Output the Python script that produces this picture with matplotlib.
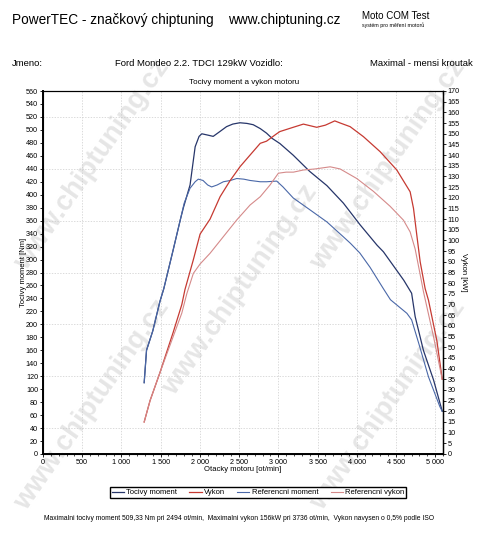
import matplotlib
matplotlib.use("Agg")
import matplotlib.pyplot as plt
from matplotlib.ticker import FuncFormatter, MultipleLocator

plt.rcParams["font.family"] = ["Liberation Sans", "DejaVu Sans"]

rpm_torque = [1290, 1320, 1400, 1490, 1540, 1660, 1750, 1790, 1875, 1940, 1990, 2025,
              2100, 2170, 2250, 2340, 2420, 2510, 2600, 2680, 2770, 2850, 2920, 3020,
              3190, 3400, 3620, 3830, 4040, 4260, 4340, 4470, 4600, 4700, 4745, 4850,
              4980, 5090]
torque = [110, 160, 190, 235, 255, 315, 361, 380, 415, 474, 490, 494,
          492, 490, 497, 505, 509, 511, 510, 508, 502, 495, 487, 479,
          461, 436, 414, 387, 354, 322, 312, 290, 268, 248, 212, 160,
          114, 66]

rpm_power = [1290, 1365, 1490, 1660, 1770, 1810, 1917, 2003, 2130, 2258, 2385, 2513,
             2640, 2770, 2850, 2980, 3020, 3190, 3320, 3490, 3600, 3720, 3790, 3916,
             4086, 4298, 4511, 4681, 4724, 4766, 4809, 4872, 4915, 5022, 5090]
power = [15, 25, 38, 57, 70, 77, 91, 103, 110, 120.5, 128, 134.6,
         140, 145.5, 146.5, 150, 151, 153, 154.5, 153, 154, 156, 155, 153.3,
         148.6, 141.6, 133, 122.8, 115, 102.5, 90, 77.5, 72, 53, 35]

rpm_ref_torque = [1290, 1320, 1400, 1490, 1540, 1660, 1750, 1800, 1875, 1940, 1980, 2040,
                  2100, 2150, 2220, 2300, 2390, 2470, 2560, 2640, 2770, 2850, 2980, 3060,
                  3190, 3400, 3620, 3830, 3920, 4040, 4170, 4340, 4430, 4560, 4640, 4700,
                  4790, 4915, 5060, 5090]
ref_torque = [110, 160, 190, 235, 255, 315, 361, 387, 410, 420, 424, 422,
              415, 412, 415, 420, 422, 425, 424, 422, 420, 420, 421, 412,
              395, 377, 358, 335, 325, 310, 288, 255, 238, 225, 217, 207,
              171, 119, 73, 66]

rpm_ref_power = [1290, 1365, 1490, 1660, 1770, 1833, 1917, 2003, 2130, 2300, 2470, 2640,
                 2770, 2895, 3001, 3100, 3193, 3320, 3469, 3661, 3788, 4001, 4213, 4426,
                 4596, 4681, 4745, 4809, 4851, 4979, 5090]
ref_power = [15, 25, 38, 55, 66, 75, 84.6, 89, 94, 101.8, 109.6, 116.6,
             120.5, 126, 131.5, 132, 132, 133, 133.5, 134.5, 133.5, 129, 123, 116,
             109.5, 104, 96, 84, 76, 55, 35]

C_TORQUE = "#27366a"
C_POWER = "#c63a32"
C_REF_TORQUE = "#4a68a8"
C_REF_POWER = "#d58a8a"

fig = plt.figure(figsize=(4.8, 5.36), dpi=100)
fig.patch.set_facecolor("white")

# watermark, kept behind the axes
for cx, cy in [(92, 165), (92, 405), (240, 290), (388, 165), (388, 405)]:
    fig.text(cx / 480, 1 - cy / 536, "www.chiptuning.cz", rotation=55,
             fontsize=20, fontweight="bold", color="#e6e6e6",
             ha="center", va="center", zorder=-1)

# header
fig.text(12 / 480, 1 - 20 / 536, "PowerTEC - značkový chiptuning", fontsize=9.8,
         va="center", ha="left")
fig.text(228 / 480, 1 - 20 / 536, "www.chiptuning.cz", fontsize=9.8,
         va="center", ha="left")
fig.text(362 / 480, 1 - 16 / 536, "Moto COM Test", fontsize=7, va="center", ha="left")
fig.text(362 / 480, 1 - 25 / 536, "systém pro měření motorů", fontsize=3.8,
         va="center", ha="left")
fig.text(12 / 480, 1 - 63 / 536, "Jmeno:", fontsize=6.8, va="center", ha="left")
fig.text(115 / 480, 1 - 63 / 536, "Ford Mondeo 2.2. TDCI 129kW Vozidlo:", fontsize=6.8,
         va="center", ha="left")
fig.text(370 / 480, 1 - 63 / 536, "Maximal - mensi kroutak", fontsize=6.8,
         va="center", ha="left")
fig.text(244 / 480, 1 - 83 / 536, "Tocivy moment a vykon motoru", fontsize=5.8,
         va="center", ha="center")

ax = fig.add_axes([43 / 480, 82 / 536, 400 / 480, 363 / 536])
ax.set_facecolor("none")
ax2 = ax.twinx()

l1, = ax.plot(rpm_torque, torque, color=C_TORQUE, lw=0.9, label="Tocivy moment")
l3, = ax.plot(rpm_ref_torque, ref_torque, color=C_REF_TORQUE, lw=0.8,
              label="Referencni moment")
l2, = ax2.plot(rpm_power, power, color=C_POWER, lw=0.9, label="Vykon")
l4, = ax2.plot(rpm_ref_power, ref_power, color=C_REF_POWER, lw=0.8,
               label="Referencni vykon")

ax.set_xlim(0, 5100)
ax.set_ylim(0, 560)
ax2.set_ylim(0, 170)

ax.xaxis.set_major_locator(MultipleLocator(500))
ax.xaxis.set_minor_locator(MultipleLocator(100))
ax.xaxis.set_major_formatter(FuncFormatter(lambda v, p: f"{int(v):,}".replace(",", " ")))
ax.yaxis.set_major_locator(MultipleLocator(20))
ax2.yaxis.set_major_locator(MultipleLocator(5))

for a in (ax, ax2):
    a.tick_params(labelsize=5.2, length=2.5, width=0.6, pad=1)
ax.tick_params(axis="x", which="minor", length=1.5, width=0.5)

ax.grid(True, which="major", axis="x", color="#cccccc", ls=(0, (2, 2)), lw=0.5)
for yv in range(40, 560, 80):
    ax.axhline(yv, color="#cccccc", ls=(0, (2, 2)), lw=0.5, zorder=0)

for s in ax.spines.values():
    s.set_linewidth(0.8)
ax.spines["left"].set_linewidth(1.4)
ax.spines["bottom"].set_linewidth(1.4)
ax2.spines["right"].set_linewidth(1.0)

ax.set_xlabel("Otacky motoru [ot/min]", fontsize=5.5, labelpad=0)
ax.set_ylabel("Tocivy moment [Nm]", fontsize=5.5, labelpad=-1)
ax2.set_ylabel("Vykon [kW]", fontsize=5.5, rotation=270, labelpad=5)

fig.legend(handles=[l1, l2, l3, l4], loc="center",
           bbox_to_anchor=(106 / 480, 38 / 536, 304 / 480, 11 / 536), mode="expand",
           ncol=4, fontsize=5.5, handlelength=1.6, handletextpad=0.3,
           borderpad=0.25, columnspacing=1.0, fancybox=False, edgecolor="black",
           framealpha=1)

fig.text(239 / 480, 1 - 518 / 536,
         "Maximalni tocivy moment 509,33 Nm pri 2494 ot/min,  Maximalni vykon 156kW pri "
         "3736 ot/min,  Vykon navysen o 0,5% podle ISO",
         fontsize=4.9, ha="center", va="center")

fig.savefig("out.png", dpi=100)
